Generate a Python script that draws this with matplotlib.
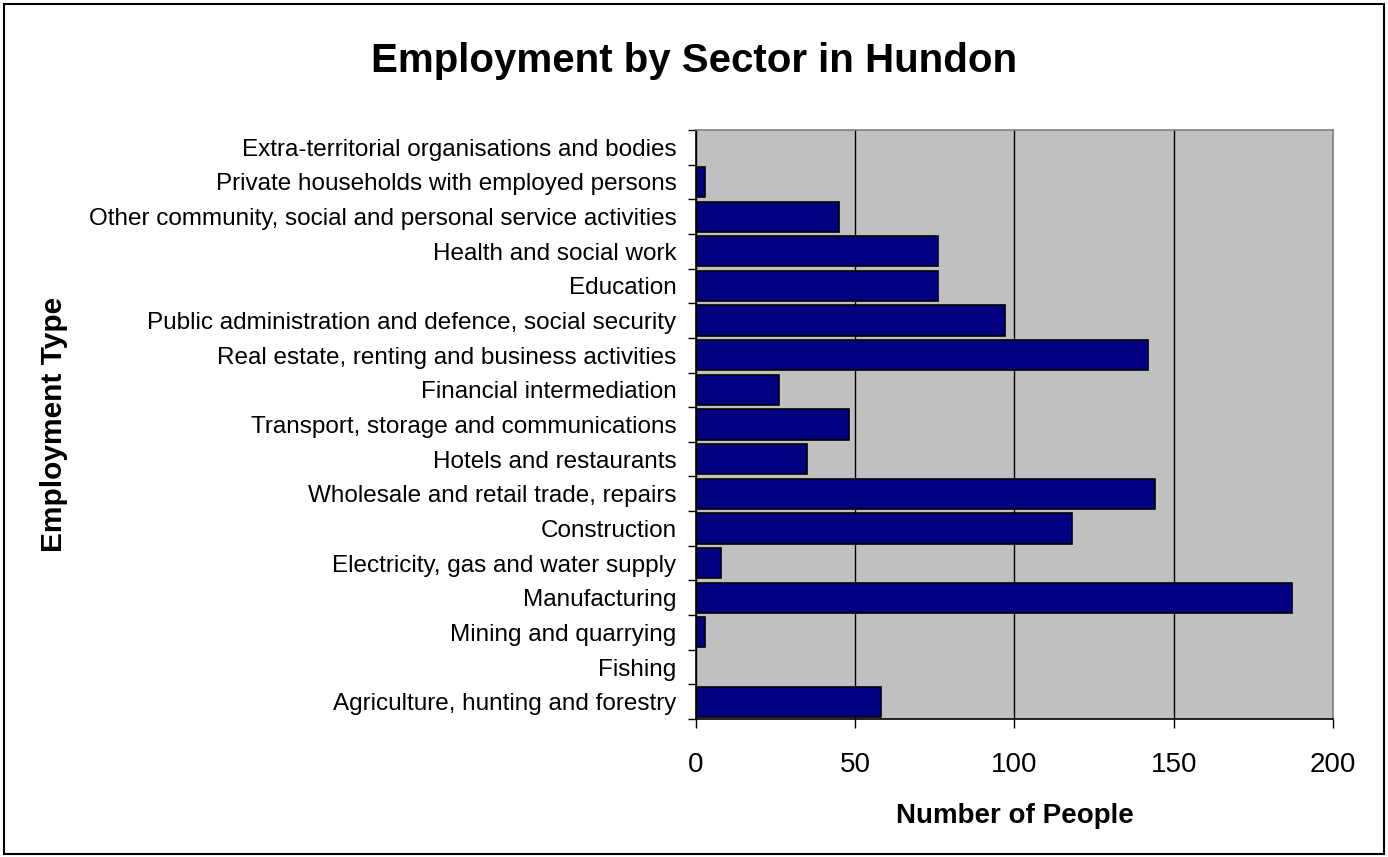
import numpy as np
import matplotlib
matplotlib.use("Agg")
import matplotlib.pyplot as plt
from matplotlib.patches import Rectangle

plt.rcParams["font.family"] = ["Liberation Sans", "DejaVu Sans"]

# categories listed bottom -> top as drawn
sectors = [
    "Agriculture, hunting and forestry",
    "Fishing",
    "Mining and quarrying",
    "Manufacturing",
    "Electricity, gas and water supply",
    "Construction",
    "Wholesale and retail trade, repairs",
    "Hotels and restaurants",
    "Transport, storage and communications",
    "Financial intermediation",
    "Real estate, renting and business activities",
    "Public administration and defence, social security",
    "Education",
    "Health and social work",
    "Other community, social and personal service activities",
    "Private households with employed persons",
    "Extra-territorial organisations and bodies",
]
people = [58, 0, 3, 187, 8, 118, 144, 35, 48, 26, 142, 97, 76, 76, 45, 3, 0]
x_ticks = [0, 50, 100, 150, 200]

fig = plt.figure(figsize=(13.88, 8.57), dpi=100)
fig.patch.set_facecolor("white")
# outer chart border
fig.add_artist(Rectangle((0.003, 0.004), 0.994, 0.991, transform=fig.transFigure,
                         fill=False, edgecolor="black", linewidth=1.5))

ax = fig.add_axes([0.5014, 0.161, 0.459, 0.6873])
ax.set_facecolor("#C0C0C0")
y = np.arange(len(sectors))
ax.barh(y, people, height=0.87, color="#000080", edgecolor="black", linewidth=1.2, zorder=3)

ax.set_xlim(0, 200)
ax.set_ylim(-0.5, len(sectors) - 0.5)
ax.set_xticks(x_ticks)
ax.set_xticklabels([str(v) for v in x_ticks])
ax.set_yticks(y)
ax.set_yticklabels(sectors)
ax.set_yticks(np.arange(len(sectors) + 1) - 0.5, minor=True)

ax.xaxis.grid(True, color="black", linewidth=1.0, zorder=1)
ax.tick_params(axis="x", which="major", length=6.5, width=1, labelsize=20, pad=17, direction="out")
ax.tick_params(axis="y", which="major", length=0, labelsize=17.5, pad=14)
ax.tick_params(axis="y", which="minor", length=5.5, width=1, direction="out")

for s in ["top", "right"]:
    ax.spines[s].set_color("#808080")
    ax.spines[s].set_linewidth(1.2)
for s in ["left", "bottom"]:
    ax.spines[s].set_color("black")
    ax.spines[s].set_linewidth(1.2)

fig.text(0.7312, 0.0397, "Number of People", fontsize=20, fontweight="bold",
         ha="center", va="baseline")
fig.text(0.039, 0.505, "Employment Type", rotation=90, fontsize=21.5, fontweight="bold",
         ha="center", va="center")
fig.text(0.5, 0.916, "Employment by Sector in Hundon", fontsize=29, fontweight="bold",
         ha="center", va="baseline")

fig.savefig("out.png", dpi=100)
